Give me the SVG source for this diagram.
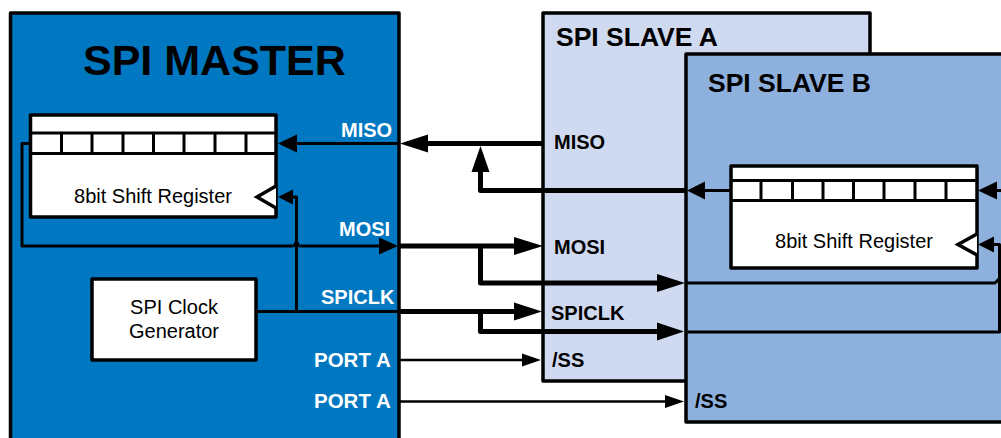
<svg xmlns="http://www.w3.org/2000/svg" width="1001" height="438" viewBox="0 0 1001 438">
<defs>
<style>
text{font-family:"Liberation Sans",Arial,sans-serif}
.b{font-weight:bold;font-size:20px;fill:#000}
.w{font-weight:bold;font-size:20px;fill:#fff}
.p{font-weight:bold;font-size:20.500px;fill:#fff}
.h{font-weight:bold;font-size:26.500px;fill:#000}
.r{font-size:20px;fill:#000;text-anchor:middle}
.box{stroke:#000;stroke-width:3.500;stroke-linejoin:round}
.reg{fill:#fff;stroke:#000;stroke-width:3.500;stroke-linejoin:round}
.cell{fill:none;stroke:#000;stroke-width:3}
.thick{fill:none;stroke:#000;stroke-width:5;stroke-linejoin:round}
.mid{fill:none;stroke:#000;stroke-width:3;stroke-linejoin:round}
.thin{fill:none;stroke:#000;stroke-width:2.500;stroke-linejoin:round}
.head{fill:#000;stroke:none}
</style>
</defs>
<rect width="1001" height="438" fill="#fff"/>
<g id="master">
<rect class="box" x="10.500" y="13" width="388.500" height="440" fill="#0077c1"/>
<text x="83" y="75" font-size="43" font-weight="bold" fill="#000">SPI MASTER</text>
<text class="w" x="341" y="137">MISO</text>
<text class="w" x="339" y="236">MOSI</text>
<text class="w" x="321" y="304">SPICLK</text>
<text class="p" x="314" y="367">PORT A</text>
<text class="p" x="314" y="408">PORT A</text>
</g>
<g id="slave-a">
<rect class="box" x="543" y="13" width="327" height="368" fill="#cfd9f0"/>
<text class="h" x="556" y="46">SPI SLAVE A</text>
<text class="b" x="554" y="149">MISO</text>
<text class="b" x="554" y="254">MOSI</text>
<text class="b" x="551" y="320">SPICLK</text>
<text class="b" x="552" y="367">/SS</text>
</g>
<g id="slave-b">
<rect class="box" x="686" y="54" width="330" height="368" fill="#8eb0dd"/>
<text class="h" x="708" y="92">SPI SLAVE B</text>
<text class="b" x="695" y="408">/SS</text>
</g>
<g id="shift-register-a">
<rect class="reg" x="30.500" y="115" width="245.500" height="102"/>
<path class="cell" d="M30.500 133H276M30.500 153.500H276M61.500 133V153.500M92 133V153.500M123 133V153.500M153.500 133V153.500M184 133V153.500M215 133V153.500M246 133V153.500"/>
<path d="M276 186L257 197L276 208" fill="#fff" stroke="#000" stroke-width="3.500"/>
<text class="r" x="153" y="203">8bit Shift Register</text>
</g>
<g id="shift-register-b">
<rect class="reg" x="731" y="166" width="246" height="102"/>
<path class="cell" d="M731 180.500H977M731 200.500H977M761 180.500V200.500M792.500 180.500V200.500M823 180.500V200.500M853.500 180.500V200.500M884 180.500V200.500M915 180.500V200.500M946 180.500V200.500"/>
<path d="M977 234L958 244.500L977 255" fill="#fff" stroke="#000" stroke-width="3.500"/>
<text class="r" x="854" y="248">8bit Shift Register</text>
</g>
<g id="clock-generator">
<rect class="reg" x="92" y="279" width="164" height="81"/>
<text class="r" x="174" y="314">SPI Clock</text>
<text class="r" x="174" y="338">Generator</text>
</g>
<g id="connectors">
<path class="mid" d="M399 143.500H292"/>
<path class="head" d="M278 143.500L297 134.500V152.500Z"/>
<path class="thick" d="M543 143.500H425"/>
<path class="head" d="M400 143.500L428 134.500V152.500Z"/>
<path class="thick" d="M686 190.500H480.500V168"/>
<path class="head" d="M480.500 146L471.500 172H489.500Z"/>
<path class="mid" d="M731 190.500H700"/>
<path class="head" d="M687 190.500L705 181.500V199.500Z"/>
<path class="mid" d="M1001 190.500H992"/>
<path class="head" d="M978 190.500L997 181.500V199.500Z"/>
<path class="mid" d="M30 143.500H22V246H292.500M300.500 246H385"/>
<path class="mid" d="M292.500 246C294 246 295 245 296.500 242C298 245 299 246 300.500 246"/>
<path class="head" d="M398 246L379 237.500V254.500Z"/>
<path class="thick" d="M399 246H520M480.500 246V283H665"/>
<path class="head" d="M543 246L514 237V255Z"/>
<path class="head" d="M685 283L657 274V292Z"/>
<path class="mid" d="M686 283H995L999 279"/>
<path class="mid" d="M988 244.500H999.500V332H686"/>
<path class="head" d="M978 244.500L994 236.500V252.500Z"/>
<path class="mid" d="M256 311.500H399M296.500 311.500V197H288"/>
<path class="head" d="M278 197L293 189.500V204.500Z"/>
<path class="thick" d="M399 311.500H520M480.500 311.500V331.500H665"/>
<path class="head" d="M542 311.500L514 302.500V320.500Z"/>
<path class="head" d="M684 331.500L657 322.500V340.500Z"/>
<path class="thin" d="M399 360H525"/>
<path class="head" d="M541 360L522 353.500V366.500Z"/>
<path class="thin" d="M399 401.500H670"/>
<path class="head" d="M684 401.500L665 395V408Z"/>
</g>
</svg>
